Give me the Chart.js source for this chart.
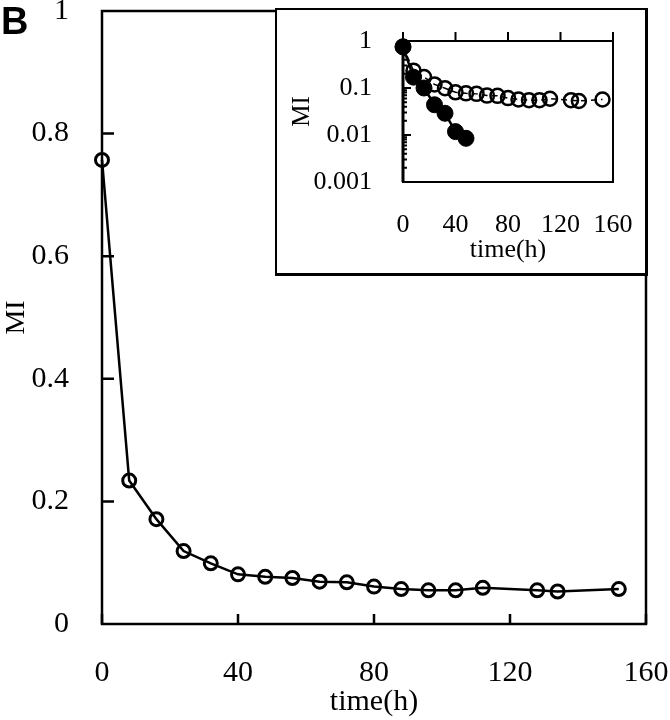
<!DOCTYPE html>
<html>
<head>
<meta charset="utf-8">
<script src="https://cdn.jsdelivr.net/npm/chart.js@4.4.1/dist/chart.umd.min.js"></script>
<style>
  html, body { margin: 0; padding: 0; background: #fff; }
  #wrap { position: relative; width: 670px; height: 720px; overflow: hidden; }
  #mainChart { position: absolute; left: 0; top: 0; }
  #panel { position: absolute; left: 1px; top: 0px; font: bold 38px 'Liberation Sans', Arial, sans-serif; color: #000; }
  #insetBox {
    position: absolute; left: 275px; top: 8px; width: 368px; height: 263px;
    border-style: solid; border-color: #000; border-width: 2px 3px 3px 2px; background: #fff;
  }
  #insetChart { position: absolute; left: 0; top: 0; }
</style>
</head>
<body>
<div id="wrap">
  <canvas id="mainChart" width="670" height="720"></canvas>
  <div id="panel">B</div>
  <div id="insetBox"><canvas id="insetChart" width="368" height="263"></canvas></div>
</div>
<script>
// time (h) and mitotic index, open circles
const timeH = [0, 8, 16, 24, 32, 40, 48, 56, 64, 72, 80, 88, 96, 104, 112, 128, 134, 152];
const miOpen = [0.757, 0.234, 0.171, 0.119, 0.099, 0.081, 0.077, 0.075, 0.069, 0.068, 0.061, 0.057, 0.055, 0.055, 0.059, 0.055, 0.053, 0.057];
// filled circles (inset only)
const timeFilled = [0, 8, 16, 24, 32, 40, 48];
const miFilled = [0.75, 0.17, 0.1, 0.044, 0.029, 0.0118, 0.0085];

const xTicks = [0, 40, 80, 120, 160];
const yTicksMain = [0, 0.2, 0.4, 0.6, 0.8, 1];
const yTicksInset = [0.001, 0.01, 0.1, 1];

const SERIF = "'Liberation Serif', 'Times New Roman', serif";

function pts(xs, ys) {
  return xs.map((x, i) => ({ x, y: ys[i] }));
}

function fmt(v) {
  return String(Math.round(v * 1000) / 1000);
}

// box around the plot area + tick marks drawn inside / outside
const frameTicks = {
  id: 'frameTicks',
  beforeDatasetsDraw(chart, args, opts) {
    const { ctx, chartArea: a, scales: { x, y } } = chart;
    ctx.save();
    ctx.strokeStyle = '#000';
    ctx.lineCap = 'butt';
    ctx.lineWidth = opts.lineWidth;
    ctx.strokeRect(a.left, a.top, a.right - a.left, a.bottom - a.top);
    if (opts.leftWidth) {
      ctx.lineWidth = opts.leftWidth;
      ctx.beginPath();
      ctx.moveTo(a.left, a.top);
      ctx.lineTo(a.left, a.bottom);
      ctx.stroke();
    }
    ctx.lineWidth = opts.tickWidth;
    ctx.beginPath();
    xTicks.forEach(v => {
      const px = x.getPixelForValue(v);
      if (opts.xTop) {
        ctx.moveTo(px, a.top);
        ctx.lineTo(px, a.top - opts.xLen);
      } else {
        ctx.moveTo(px, a.bottom);
        ctx.lineTo(px, a.bottom - opts.xLen);
      }
    });
    opts.yMajor.forEach(v => {
      const py = y.getPixelForValue(v);
      ctx.moveTo(a.left, py);
      ctx.lineTo(a.left + opts.yLen, py);
    });
    (opts.yMinor || []).forEach(v => {
      const py = y.getPixelForValue(v);
      ctx.moveTo(a.left, py);
      ctx.lineTo(a.left + opts.yMinorLen, py);
    });
    ctx.stroke();
    ctx.restore();
  }
};

function fixY(width) {
  return s => { s.width = width; s.paddingTop = 0; s.paddingBottom = 0; };
}
function fixX(height) {
  return s => { s.height = height; s.paddingLeft = 0; s.paddingRight = 0; };
}

new Chart(document.getElementById('mainChart'), {
  type: 'line',
  data: {
    datasets: [{
      data: pts(timeH, miOpen),
      borderColor: '#000',
      borderWidth: 2.5,
      pointRadius: 6.5,
      pointBorderWidth: 3,
      pointBorderColor: '#000',
      pointBackgroundColor: 'rgba(0,0,0,0)',
      tension: 0,
      clip: false,
    }],
  },
  options: {
    responsive: false,
    animation: false,
    events: [],
    layout: { padding: { left: 0, top: 11, right: 24, bottom: 0 } },
    plugins: {
      legend: { display: false },
      tooltip: { enabled: false },
      frameTicks: {
        lineWidth: 2.5, tickWidth: 2.5, xLen: 10, yLen: 12,
        yMajor: yTicksMain.slice(1, -1),
      },
    },
    scales: {
      x: {
        type: 'linear', min: 0, max: 160,
        afterFit: fixX(96),
        afterBuildTicks: s => { s.ticks = xTicks.map(value => ({ value })); },
        grid: { display: false }, border: { display: false },
        ticks: { padding: 23, color: '#000', font: { family: SERIF, size: 30 }, maxRotation: 0 },
        title: { display: true, text: 'time(h)', color: '#000', font: { family: SERIF, size: 30 }, padding: { top: 0, bottom: 0 } },
      },
      y: {
        type: 'linear', min: 0, max: 1,
        afterFit: fixY(102),
        afterBuildTicks: s => { s.ticks = yTicksMain.map(value => ({ value })); },
        grid: { display: false }, border: { display: false },
        ticks: { padding: 25, color: '#000', font: { family: SERIF, size: 30 }, callback: v => fmt(v) },
        title: { display: true, text: 'MI', color: '#000', font: { family: SERIF, size: 28 }, padding: 0 },
      },
    },
  },
  plugins: [frameTicks],
});

const minorInset = [];
[0.001, 0.01, 0.1].forEach(d => {
  for (let k = 2; k <= 9; k++) minorInset.push(d * k);
});

new Chart(document.getElementById('insetChart'), {
  type: 'line',
  data: {
    datasets: [
      {
        data: pts(timeFilled, miFilled),
        borderColor: '#000',
        borderWidth: 2.5,
        pointRadius: 8,
        pointBorderWidth: 1,
        pointBorderColor: '#000',
        pointBackgroundColor: '#000',
        tension: 0,
        clip: false,
      },
      {
        data: pts(timeH, miOpen),
        borderColor: '#000',
        borderWidth: 1.5,
        borderDash: [6, 4],
        pointRadius: 7,
        pointBorderWidth: 2.5,
        pointBorderColor: '#000',
        pointBackgroundColor: 'rgba(0,0,0,0)',
        tension: 0,
        clip: false,
      },
    ],
  },
  options: {
    responsive: false,
    animation: false,
    events: [],
    layout: { padding: { left: 10, top: 31, right: 32, bottom: 0 } },
    plugins: {
      legend: { display: false },
      tooltip: { enabled: false },
      frameTicks: {
        lineWidth: 2, leftWidth: 3, tickWidth: 2, xTop: true, xLen: 9, yLen: 8,
        yMajor: yTicksInset.slice(1, -1), yMinor: minorInset, yMinorLen: 4,
      },
    },
    scales: {
      x: {
        type: 'linear', min: 0, max: 160,
        afterFit: fixX(91),
        afterBuildTicks: s => { s.ticks = xTicks.map(value => ({ value })); },
        grid: { display: false }, border: { display: false },
        ticks: { padding: 20, color: '#000', font: { family: SERIF, size: 26 }, maxRotation: 0 },
        title: { display: true, text: 'time(h)', color: '#000', font: { family: SERIF, size: 26 }, padding: { top: 0, bottom: 7 } },
      },
      y: {
        type: 'logarithmic', min: 0.001, max: 1,
        afterFit: fixY(116),
        afterBuildTicks: s => { s.ticks = yTicksInset.map(value => ({ value })); },
        grid: { display: false }, border: { display: false },
        ticks: { padding: 23, color: '#000', font: { family: SERIF, size: 26 }, callback: v => fmt(v) },
        title: { display: true, text: 'MI', color: '#000', font: { family: SERIF, size: 25 }, padding: 0 },
      },
    },
  },
  plugins: [frameTicks],
});
</script>
</body>
</html>
